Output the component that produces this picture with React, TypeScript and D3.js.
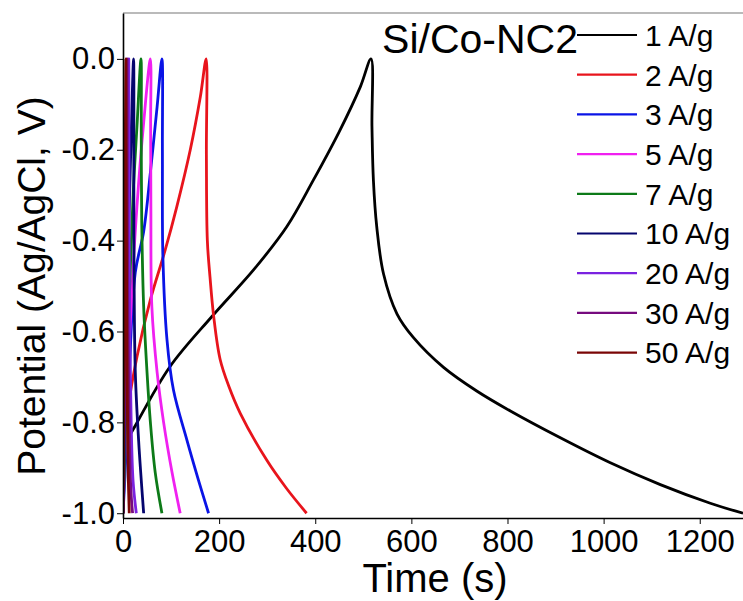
import * as d3 from "d3";
import * as React from "react";

// Galvanostatic charge/discharge curves, Si/Co-NC2
const rates = ["1 A/g", "2 A/g", "3 A/g", "5 A/g", "7 A/g", "10 A/g", "20 A/g", "30 A/g", "50 A/g"];
const colors = ["#000000", "#e8141c", "#0a14e6", "#f020f0", "#0d7a18", "#05056e", "#7a22e0", "#760a7e", "#7a0606"];

// [time (s), potential (V)]
const curve1: [number, number][] = [
  [0, -1.0], [3, -0.9], [10, -0.84], [28.5, -0.802], [98, -0.677], [185, -0.567],
  [272, -0.464], [341, -0.369], [396, -0.267], [450, -0.16], [494, -0.061], [516, 0.0],
  [518, -0.149], [521, -0.267], [528, -0.37], [542, -0.473], [570, -0.561], [604, -0.613],
  [667, -0.679], [736, -0.731], [806, -0.775], [910, -0.834], [1014, -0.889], [1118, -0.937],
  [1222, -0.978], [1290, -1.0],
];
const curve2: [number, number][] = [
  [0, -1.0], [3, -0.9], [12, -0.76], [29, -0.656], [57, -0.53], [88, -0.42], [112, -0.325],
  [140, -0.2], [161, -0.083], [173, 0.0], [173.5, -0.21], [175.5, -0.4], [181, -0.48],
  [188.6, -0.566], [202, -0.661], [220, -0.72], [244, -0.78], [299, -0.883], [340, -0.945], [382, -1.0],
];
const curve3: [number, number][] = [
  [0, -1.0], [4, -0.92], [12, -0.72], [25.6, -0.47], [43, -0.38], [57, -0.25], [71, -0.105],
  [81, 0.0], [82, -0.2], [83, -0.435], [91.5, -0.618], [105, -0.729], [133, -0.839],
  [157, -0.927], [178, -1.0],
];
const curve5: [number, number][] = [
  [0, -1.0], [3, -0.9], [10, -0.7], [20, -0.48], [29, -0.325], [43, -0.14], [57, 0.0],
  [57.5, -0.15], [58, -0.325], [60, -0.545], [71, -0.69], [84.5, -0.8], [102, -0.91], [119, -1.0],
];
const curve7: [number, number][] = [
  [0, -1.0], [3, -0.9], [8, -0.7], [14, -0.5], [21, -0.3], [29, -0.15], [37.4, 0.0],
  [38, -0.18], [39, -0.36], [43, -0.545], [50, -0.69], [57, -0.8], [67, -0.91], [81, -1.0],
];
const curve10: [number, number][] = [
  [0, -1.0], [2, -0.9], [5, -0.7], [9, -0.5], [13, -0.33], [17, -0.17], [22, 0.0],
  [22.5, -0.25], [23, -0.47], [25.6, -0.69], [32.5, -0.84], [43, -1.0],
];
const curve20: [number, number][] = [
  [0, -1.0], [1.5, -0.9], [3, -0.7], [5.5, -0.5], [8, -0.3], [12, 0.0],
  [12.5, -0.25], [14, -0.6], [17, -0.8], [21, -0.93], [27.7, -1.0],
];
const curve30: [number, number][] = [
  [0, -1.0], [1, -0.9], [2.5, -0.7], [4, -0.5], [6, -0.3], [8.5, 0.0],
  [9, -0.3], [10.5, -0.6], [13, -0.82], [16, -0.94], [20, -1.0],
];
const curve50: [number, number][] = [
  [0, -1.0], [1, -0.9], [2, -0.75], [3, -0.55], [4, -0.35], [5, -0.15], [6, 0.0],
  [6.5, -0.2], [7.5, -0.5], [9, -0.75], [11, -0.92], [13, -1.0],
];
const curves = [curve1, curve2, curve3, curve5, curve7, curve10, curve20, curve30, curve50];

const xTicks = [0, 200, 400, 600, 800, 1000, 1200];
const yTicks = [0.0, -0.2, -0.4, -0.6, -0.8, -1.0];

const font = "Liberation Sans, Arial, sans-serif";

export default function App() {
  const ref = React.useRef<SVGSVGElement>(null);

  React.useEffect(() => {
    const width = 743;
    const height = 601;
    const margin = { top: 13, right: 0, bottom: 83, left: 123 };
    const svg = d3.select(ref.current);
    svg.selectAll("*").remove();

    // x(0)=122.7, x(200)=219 ; y(0)=59, y(-1)=513.3
    const x = d3.scaleLinear().domain([0, 1290]).range([margin.left, width - margin.right]);
    const y = d3.scaleLinear().domain([-1.0105, 0.101]).range([height - margin.bottom, margin.top]);

    svg.append("defs").append("clipPath").attr("id", "plotclip")
      .append("rect")
      .attr("x", margin.left).attr("y", margin.top)
      .attr("width", width - margin.left - margin.right)
      .attr("height", height - margin.top - margin.bottom);

    const line = d3.line<[number, number]>()
      .x(d => x(d[0]))
      .y(d => y(d[1]))
      .curve(d3.curveCatmullRom.alpha(0.5));

    // fastest rates drawn last, on top of the cluster
    const g = svg.append("g").attr("clip-path", "url(#plotclip)");
    curves.forEach((c, i) => {
      g.append("path")
        .attr("d", line(c))
        .attr("fill", "none")
        .attr("stroke", colors[i])
        .attr("stroke-width", 2.8)
        .attr("stroke-linejoin", "round");
    });

    // frame top
    svg.append("line")
      .attr("x1", margin.left).attr("x2", width)
      .attr("y1", margin.top).attr("y2", margin.top)
      .attr("stroke", "#777").attr("stroke-width", 1.2);

    const fmt = (d: d3.NumberValue) => d3.format(".1f")(d as number).replace("\u2212", "-");

    const xAxis = svg.append("g")
      .attr("transform", `translate(0,${height - margin.bottom})`)
      .call(d3.axisBottom(x).tickValues(xTicks).tickSize(6).tickSizeOuter(0).tickFormat(d3.format("d")));
    xAxis.select(".domain").attr("stroke-width", 1.6);
    xAxis.selectAll("text")
      .attr("font-family", font)
      .attr("font-size", 31)
      .attr("dy", "0.82em")
      .attr("fill", "#000");

    const yAxis = svg.append("g")
      .attr("transform", `translate(${margin.left},0)`)
      .call(d3.axisLeft(y).tickValues(yTicks).tickSize(6).tickSizeOuter(0).tickFormat(fmt));
    yAxis.select(".domain").attr("stroke-width", 1.6);
    yAxis.selectAll("text")
      .attr("font-family", font)
      .attr("font-size", 31)
      .attr("x", -8)
      .attr("fill", "#000");

    svg.append("text")
      .attr("x", 435)
      .attr("y", 592)
      .attr("text-anchor", "middle")
      .attr("font-family", font)
      .attr("font-size", 40)
      .text("Time (s)");

    svg.append("text")
      .attr("transform", `translate(45,${(59 + 513) / 2}) rotate(-90)`)
      .attr("text-anchor", "middle")
      .attr("font-family", font)
      .attr("font-size", 39)
      .text("Potential (Ag/AgCl, V)");

    // legend
    svg.append("text")
      .attr("x", 578)
      .attr("y", 53)
      .attr("text-anchor", "end")
      .attr("font-family", font)
      .attr("font-size", 41)
      .text("Si/Co-NC2");

    const leg = svg.append("g")
      .selectAll("g")
      .data(rates)
      .join("g")
      .attr("transform", (d, i) => `translate(577,${35 + i * 39.7})`);

    leg.append("line")
      .attr("x1", 0).attr("x2", 60)
      .attr("stroke", (d, i) => colors[i])
      .attr("stroke-width", 2.2);

    leg.append("text")
      .attr("x", 68)
      .attr("dy", "0.36em")
      .attr("font-family", font)
      .attr("font-size", 30)
      .text(d => d);
  }, []);

  return (
    <div style={{ position: "absolute", left: 0, top: 0 }}>
      <svg ref={ref} width={743} height={601}></svg>
    </div>
  );
}
